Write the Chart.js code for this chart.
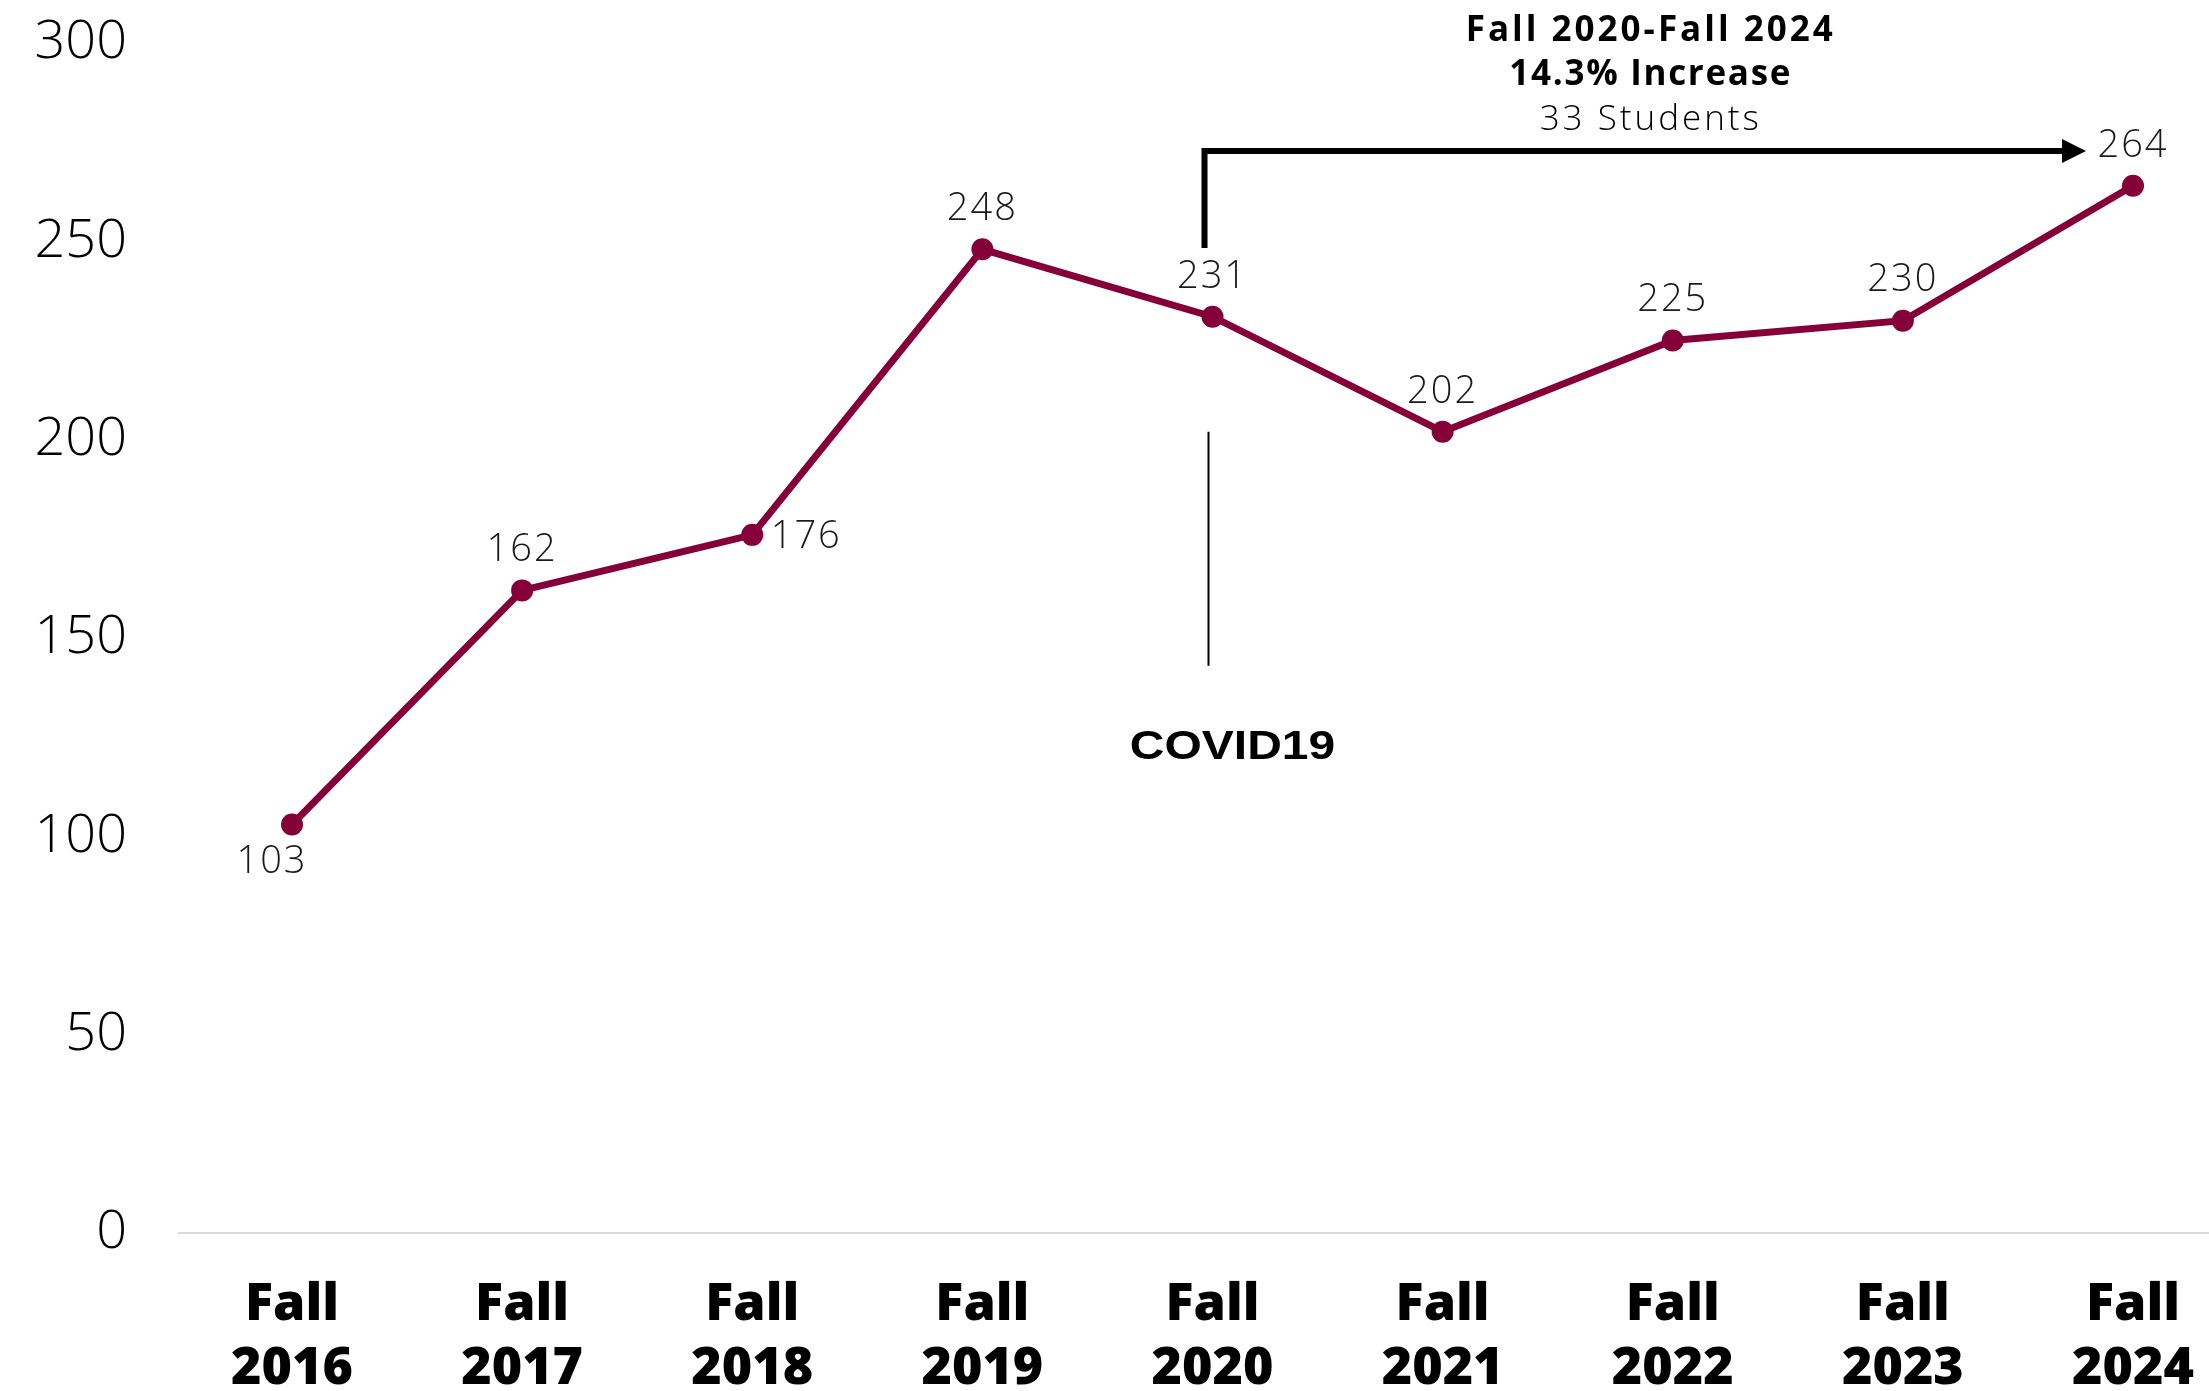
<!doctype html>
<html>
<head>
  <meta charset="utf-8" />
  <title>Fall enrollment</title>
  <script src="https://cdn.jsdelivr.net/npm/chart.js@4.4.1/dist/chart.umd.min.js"></script>
  <style>
    html, body { margin:0; padding:0; background:#fff; }
    #wrap { width:2209px; height:1391px; }
  </style>
</head>
<body>
<div id="wrap"><canvas id="myChart" width="2209" height="1391"></canvas></div>

<script>
// data
const terms = [['Fall','2016'],['Fall','2017'],['Fall','2018'],['Fall','2019'],['Fall','2020'],
               ['Fall','2021'],['Fall','2022'],['Fall','2023'],['Fall','2024']];
const students = [103, 162, 176, 248, 231, 202, 225, 230, 264];
const yTicks = [0, 50, 100, 150, 200, 250, 300];

const MAROON = '#850038';
const LIGHT = "'Open Sans', sans-serif";

// value labels next to each point
const pointLabels = {
  id: 'pointLabels',
  afterDatasetsDraw(chart) {
    const ctx = chart.ctx;
    const meta = chart.getDatasetMeta(0);
    ctx.save();
    ctx.font = '300 38px ' + LIGHT;
    ctx.letterSpacing = '2px';
    ctx.fillStyle = '#1a1a1a';
    ctx.textAlign = 'center';
    ctx.textBaseline = 'middle';
    meta.data.forEach((pt, i) => {
      let dx = 0, dy = -40;
      if (i === 0) { dx = -20; dy = 38; }
      if (i === 2) { dx = 54; dy = 2; }
      ctx.fillText(String(students[i]), pt.x + dx, pt.y + dy);
    });
    ctx.restore();
  }
};

// baseline, covid marker and the increase arrow
const notes = {
  id: 'notes',
  beforeDatasetsDraw(chart) {
    const ctx = chart.ctx, y = chart.scales.y;
    ctx.save();
    ctx.strokeStyle = '#d9d9d9';
    ctx.lineWidth = 2;
    ctx.beginPath();
    ctx.moveTo(178, y.getPixelForValue(0));
    ctx.lineTo(chart.width, y.getPixelForValue(0));
    ctx.stroke();
    ctx.restore();
  },
  afterDraw(chart) {
    const ctx = chart.ctx, x = chart.scales.x, y = chart.scales.y;
    const x20 = x.getPixelForValue(4), x24 = x.getPixelForValue(8);
    ctx.save();

    // covid line + label
    const cx = x20 - 4;
    ctx.strokeStyle = '#000';
    ctx.lineWidth = 2;
    ctx.beginPath();
    ctx.moveTo(cx, y.getPixelForValue(202));
    ctx.lineTo(cx, y.getPixelForValue(143));
    ctx.stroke();
    ctx.fillStyle = '#000';
    ctx.textAlign = 'center';
    ctx.textBaseline = 'middle';
    ctx.save();
    ctx.translate(cx + 24, 748);
    ctx.scale(1.2, 1);
    ctx.font = 'bold 40px "Liberation Sans", Arial, sans-serif';
    ctx.fillText('COVID19', 0, 0);
    ctx.restore();

    // elbow arrow from 2020 to 2024
    const ay = 151, ax0 = x20 - 8, tip = x24 - 47;
    ctx.lineWidth = 6;
    ctx.beginPath();
    ctx.moveTo(ax0, 248);
    ctx.lineTo(ax0, ay);
    ctx.lineTo(tip - 20, ay);
    ctx.stroke();
    ctx.beginPath();
    ctx.moveTo(tip, ay);
    ctx.lineTo(tip - 24, ay - 12);
    ctx.lineTo(tip - 24, ay + 12);
    ctx.closePath();
    ctx.fill();

    const tx = (x20 + x24) / 2 - 22;
    ctx.font = 'bold 35px ' + LIGHT;
    ctx.letterSpacing = '3px';
    ctx.fillText('Fall 2020-Fall 2024', tx, 31);
    ctx.letterSpacing = '1.7px';
    ctx.fillText('14.3% Increase', tx, 75);
    ctx.font = '300 35px ' + LIGHT;
    ctx.letterSpacing = '3px';
    ctx.fillText('33 Students', tx, 120);
    ctx.restore();
  }
};

new Chart('myChart', {
  type: 'line',
  data: {
    labels: terms,
    datasets: [{
      data: students,
      borderColor: MAROON,
      backgroundColor: MAROON,
      borderWidth: 7,
      pointRadius: 11,
      pointHoverRadius: 11,
      pointBackgroundColor: MAROON,
      pointBorderWidth: 0,
      tension: 0
    }]
  },
  options: {
    responsive: false,
    animation: false,
    layout: { padding: { top: 43, right: 76, left: 0, bottom: 0 } },
    plugins: { legend: { display: false }, tooltip: { enabled: false } },
    scales: {
      x: {
        offset: false,
        grid: { display: false, drawTicks: false },
        border: { display: false },
        ticks: {
          color: '#000',
          font: { family: LIGHT, size: 52, weight: 800, lineHeight: 1.23 },
          padding: 40,
          maxRotation: 0,
          autoSkip: false
        },
        afterFit(scale) {
          scale.height = 158;
          scale.paddingLeft = 0;
          scale.paddingRight = 0;
        }
      },
      y: {
        min: 0, max: 300,
        afterBuildTicks(scale) { scale.ticks = yTicks.map(v => ({ value: v })); },
        grid: { display: false, drawTicks: false },
        border: { display: false },
        ticks: {
          color: '#000',
          font: { family: LIGHT, size: 54, weight: 300 },
          padding: 165
        },
        afterFit(scale) {
          scale.width = 292;
          scale.paddingTop = 0;
          scale.paddingBottom = 0;
        }
      }
    }
  },
  plugins: [notes, pointLabels]
});
</script>
</body>
</html>
